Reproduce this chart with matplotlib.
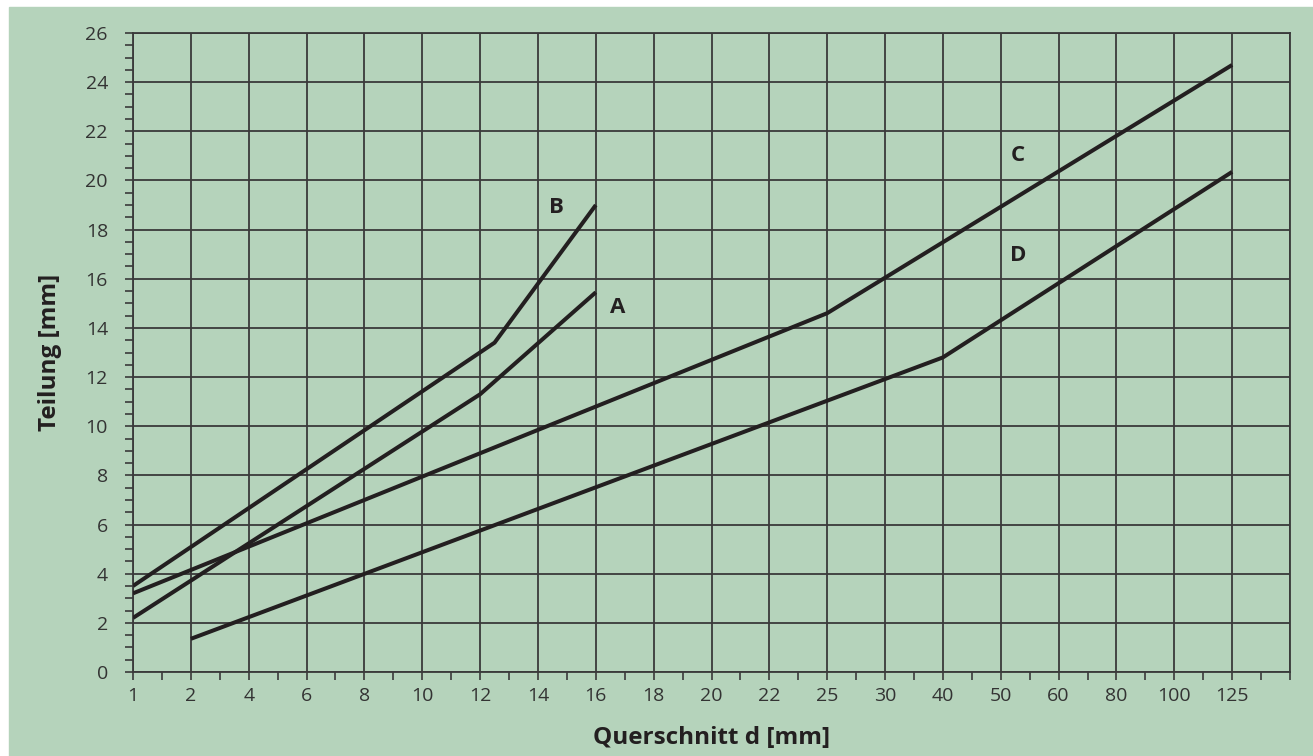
import numpy as np
import matplotlib
matplotlib.use("Agg")
import matplotlib.pyplot as plt
from matplotlib.patches import Rectangle
from matplotlib.ticker import MultipleLocator

plt.rcParams["font.family"] = ["Open Sans", "DejaVu Sans"]

# x axis is not linear: each listed cross-section gets one equal grid step
d_ticks = [1, 2, 4, 6, 8, 10, 12, 14, 16, 18, 20, 22, 25, 30, 40, 50, 60, 80, 100, 125]

# curves: cross-section d [mm] -> pitch [mm]
a_d = [1, 12, 16]
a_t = [2.2, 11.3, 15.45]
b_d = [1, 12.5, 16]
b_t = [3.5, 13.4, 19.0]
c_d = [1, 25, 125]
c_t = [3.2, 14.6, 24.7]
d_d = [2, 40, 125]
d_t = [1.35, 12.8, 20.35]

GREEN = "#b5d3bb"
INK = "#231f20"
GRID = "#3a3a3a"

pos = np.arange(len(d_ticks))


def to_pos(d):
    return np.interp(d, d_ticks, pos)


fig = plt.figure(figsize=(13.13, 7.56), dpi=100, facecolor="white")
bg = Rectangle((9 / 1313, 0), 1 - 9 / 1313, 1 - 7 / 756,
               transform=fig.transFigure, color=GREEN, zorder=-10)
fig.add_artist(bg)
ax = fig.add_axes([133 / 1313, 1 - 672 / 756, (1290 - 133) / 1313, (672 - 33) / 756])
ax.set_zorder(1)
ax.set_facecolor(GREEN)

for xs, ys in [(a_d, a_t), (b_d, b_t), (c_d, c_t), (d_d, d_t)]:
    ax.plot(to_pos(xs), ys, color=INK, lw=2.9, solid_capstyle="butt",
            solid_joinstyle="miter", zorder=3)

for txt, x, y in [("B", 7.32, 18.9), ("A", 8.37, 14.85), ("C", 15.3, 21.0), ("D", 15.31, 16.95)]:
    ax.text(x, y, txt, ha="center", va="center", fontsize=16, fontweight="bold",
            color=INK, zorder=4)

ax.set_xlim(0, 20)
ax.set_ylim(0, 26)
ax.set_xticks(np.arange(0, 21))
ax.set_xticklabels([str(v) for v in d_ticks] + [""])
ax.xaxis.set_minor_locator(MultipleLocator(0.5))
ax.yaxis.set_major_locator(MultipleLocator(2))
ax.yaxis.set_minor_locator(MultipleLocator(0.5))

ax.grid(True, which="major", color=GRID, lw=1.3, zorder=1)
ax.set_axisbelow(True)
for s in ax.spines.values():
    s.set_color(GRID)
    s.set_linewidth(1.3)

ax.tick_params(which="both", direction="out", length=6, width=1.2, color=GRID)
ax.tick_params(which="major", labelsize=14, labelcolor="#333333")
ax.tick_params(axis="x", which="major", pad=5)
ax.tick_params(axis="y", which="major", pad=12)

ax.set_xlabel("Querschnitt d [mm]", fontsize=17.5, fontweight="bold", color=INK, labelpad=15)
ax.set_ylabel("Teilung [mm]", fontsize=17.5, fontweight="bold", color=INK, labelpad=17)

fig.savefig("out.png", dpi=100, facecolor=fig.get_facecolor())
